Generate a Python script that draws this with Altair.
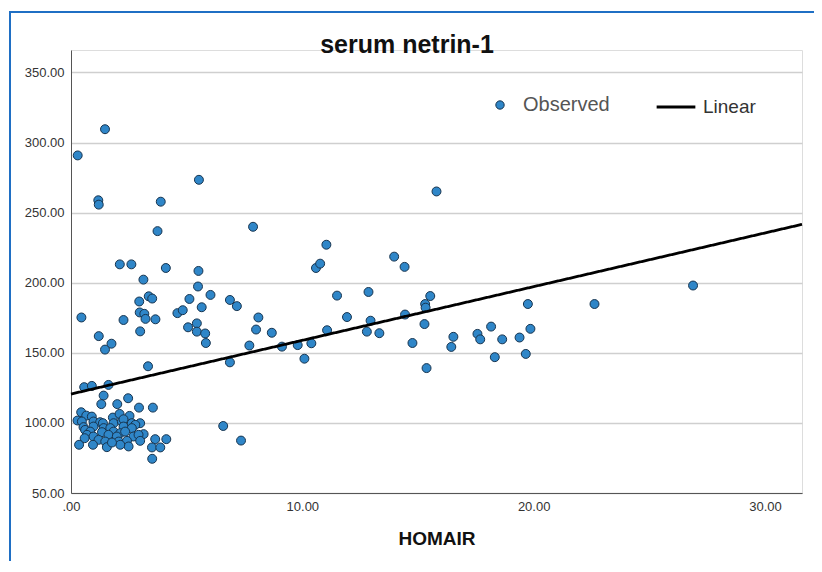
import altair as alt
import pandas as pd

# HOMAIR (x) and serum netrin-1 (y) values
homair = [
    0.29, 1.47, 0.45, 1.18, 1.20, 3.88, 5.53, 15.80, 3.74, 7.87, 11.04, 2.11, 2.61, 4.10, 5.51,
    3.13, 5.49, 6.03, 3.36, 3.51, 2.95, 5.12, 6.87, 7.17, 5.65, 4.60, 4.83, 2.97, 3.17, 3.22,
    3.65, 2.27, 8.10, 8.00, 8.68, 5.44, 5.06, 5.44, 5.80, 5.83, 2.99, 1.20, 1.75, 1.47, 3.33,
    6.87, 7.71, 9.12, 9.80, 10.39, 10.09, 11.07, 11.50, 11.93, 10.59, 10.77, 12.86, 12.95, 12.79, 13.33,
    13.97, 14.42, 14.44, 14.76, 15.28, 15.31, 15.33, 15.53, 15.37, 16.53, 16.44, 17.57, 17.69, 18.16, 18.32,
    18.64, 19.39, 19.66, 19.75, 19.86, 22.63, 26.89, 6.58, 7.35,
    0.57, 0.90, 1.62, 1.41, 1.31, 2.00, 2.47, 2.94, 3.54,
    0.44, 0.66, 0.90, 1.81, 2.10, 2.53, 0.28, 0.47, 0.97, 1.26, 1.38, 1.84, 2.20, 2.27, 2.63, 2.99, 2.78,
    0.54, 0.97, 1.41, 1.70, 2.27, 2.63,
    0.61, 0.83, 1.34, 1.84, 2.13, 2.34, 3.14,
    0.69, 0.97, 1.62, 1.98, 2.70, 2.92,
    0.59, 1.19, 1.48, 2.06, 2.42, 2.99, 3.64, 4.12,
    0.35, 0.95, 1.55, 2.49, 2.13, 1.77, 3.50, 3.86,
    3.51,
]
netrin = [
    290.8, 309.5, 175.2, 258.8, 255.7, 257.8, 273.4, 265.1, 236.8, 239.9, 227.1, 213.1, 213.1, 210.5, 208.4,
    202.2, 197.3, 191.3, 190.3, 188.7, 186.6, 188.4, 187.7, 183.3, 182.5, 178.3, 180.4, 178.8, 177.8, 174.2,
    173.9, 173.4, 175.2, 166.6, 164.3, 171.0, 168.2, 165.1, 163.8, 157.0, 165.3, 161.9, 156.5, 152.3, 140.4,
    143.2, 155.2, 154.4, 155.5, 156.8, 145.8, 166.1, 190.8, 175.5, 210.5, 213.6, 193.4, 172.9, 165.1, 164.0,
    218.6, 211.3, 177.3, 157.0, 170.5, 184.8, 182.2, 190.5, 139.1, 161.4, 154.2, 163.5, 159.6, 168.7, 146.9,
    159.6, 160.9, 149.2, 184.8, 167.1, 184.8, 198.0, 97.8, 87.4,
    125.5, 126.4, 127.1, 119.5, 113.4, 113.4, 117.6, 110.9, 110.9,
    107.6, 105.2, 104.5, 103.8, 106.4, 105.0, 101.7, 101.0, 101.0, 100.5, 99.8, 99.8, 101.0, 102.6, 99.8, 99.8, 98.6,
    97.0, 97.4, 96.3, 96.3, 97.4, 96.3,
    95.0, 93.8, 93.4, 93.8, 92.7, 93.8, 92.0,
    91.5, 90.3, 91.5, 90.3, 90.3, 91.5,
    89.1, 87.9, 86.7, 86.7, 87.2, 87.2, 88.4, 88.4,
    84.4, 84.4, 82.7, 83.2, 84.4, 86.0, 82.5, 82.5,
    74.4,
]

# Linear fit line as drawn (intercept, slope) and axis extents
fit_intercept = 120.6
fit_slope = 3.83
x_range = [0, 31.6]
y_range = [50, 366]
x_ticks = [0, 10, 20, 30]
y_ticks = [50, 100, 150, 200, 250, 300, 350]
chart_title = "serum netrin-1"

points = pd.DataFrame({"HOMAIR": homair, "netrin": netrin, "series": "Observed"})
line = pd.DataFrame({
    "HOMAIR": x_range,
    "netrin": [fit_intercept + fit_slope * v for v in x_range],
    "fit": "Linear",
})

FONT = "Liberation Sans"

xscale = alt.Scale(domain=x_range, nice=False, zero=False)
yscale = alt.Scale(domain=y_range, nice=False, zero=False)

xaxis = alt.Axis(
    values=x_ticks, grid=False, ticks=False, labelPadding=7, labelFlush=False,
    labelExpr="datum.value == 0 ? '.00' : format(datum.value, '.2f')",
    labelFont=FONT, labelFontSize=13, labelColor="#333",
    domainColor="#555", domainWidth=1,
    title="HOMAIR", titleFont=FONT, titleFontSize=19, titleFontWeight="bold",
    titleColor="#111", titlePadding=16,
)
yaxis = alt.Axis(
    values=y_ticks, format=".2f", grid=True, gridColor="#cfcfcf", gridWidth=1.5,
    ticks=False, labelPadding=7, labelFlush=False, labelFont=FONT, labelFontSize=13,
    labelColor="#333", domainColor="#555", domainWidth=1, title=None,
)

pts = alt.Chart(points).mark_point(
    filled=True, shape="circle", size=80, opacity=1,
    stroke="#17344f", strokeWidth=1,
).encode(
    x=alt.X("HOMAIR:Q", scale=xscale, axis=xaxis),
    y=alt.Y("netrin:Q", scale=yscale, axis=yaxis),
    color=alt.Color(
        "series:N",
        scale=alt.Scale(domain=["Observed"], range=["#2f86c8"]),
        legend=alt.Legend(
            orient="none", legendX=419, legendY=45, title=None, padding=0,
            labelFont=FONT, labelFontSize=20, labelColor="#555", labelOffset=13,
            symbolSize=70, symbolType="circle", symbolStrokeColor="#17344f",
            symbolStrokeWidth=1, symbolFillColor="#2f86c8",
        ),
    ),
)

fitline = alt.Chart(line).mark_line(color="black", strokeWidth=2.8).encode(
    x=alt.X("HOMAIR:Q", scale=xscale),
    y=alt.Y("netrin:Q", scale=yscale),
    strokeDash=alt.StrokeDash(
        "fit:N",
        scale=alt.Scale(domain=["Linear"], range=[[1, 0]]),
        legend=alt.Legend(
            orient="none", legendX=584, legendY=36, title=None, padding=0,
            labelFont=FONT, labelFontSize=19, labelColor="#333", labelOffset=6,
            symbolType="stroke", symbolSize=1500, symbolStrokeWidth=3,
            symbolStrokeColor="black",
        ),
    ),
)

frame = alt.Chart(pd.DataFrame({"k": [0]})).mark_rect(
    fill=None, stroke="#1f6fc4", strokeWidth=2, clip=False,
).encode(
    x=alt.value(-61), x2=alt.value(800), y=alt.value(-38), y2=alt.value(560),
)

title_text = alt.Chart(pd.DataFrame({"t": [chart_title]})).mark_text(
    font=FONT, fontSize=25, fontWeight="bold", color="#111",
    align="center", baseline="alphabetic", clip=False,
).encode(
    text="t:N", x=alt.value(336), y=alt.value(3),
)

chart = alt.layer(frame, pts, fitline, title_text).resolve_legend(
    color="independent", strokeDash="independent"
).properties(
    width=731, height=443,
    autosize=alt.AutoSizeParams(type="none"),
    padding={"left": 63, "top": 42, "right": 12, "bottom": 68},
).configure_view(stroke=None).configure(background="white")

chart.save("out.html", embed_options={"renderer": "svg", "actions": False})
